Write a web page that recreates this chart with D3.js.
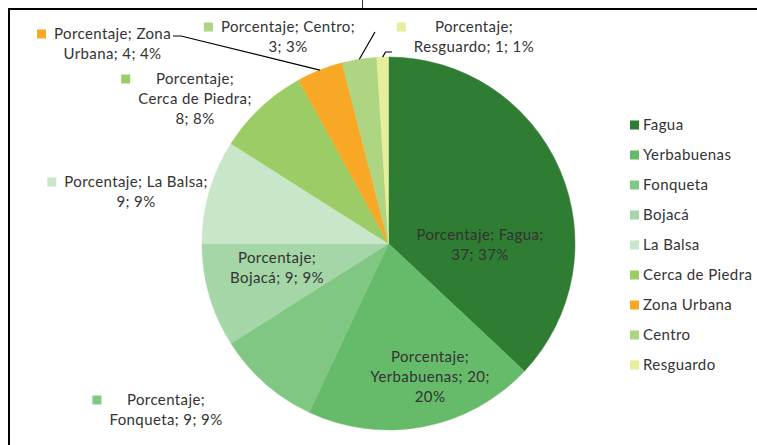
<!DOCTYPE html>
<html>
<head>
<meta charset="utf-8">
<script src="https://cdn.jsdelivr.net/npm/d3@7/dist/d3.min.js"></script>
<style>
  html, body { margin: 0; padding: 0; background: #fff; }
  svg { display: block; }
  text { font-family: Lato, "Open Sans", sans-serif; fill: #333; letter-spacing: 0.4px; }
</style>
</head>
<body>
<svg id="chart" width="757" height="445"></svg>
<script>
// ---- data ----
const seriesName = "Porcentaje";
const categories = ["Fagua", "Yerbabuenas", "Fonqueta", "Bojacá", "La Balsa", "Cerca de Piedra", "Zona Urbana", "Centro", "Resguardo"];
const values = [37, 20, 9, 9, 9, 8, 4, 3, 1];
const colors = ["#2E7D32", "#66BB6A", "#81C784", "#A5D6A7", "#C8E6C9", "#9CCC65", "#F9A825", "#AED581", "#E6EE9C"];

// ---- layout (positions only) ----
const W = 757, H = 445;
const cx = 388.5, cy = 243.5, R = 186.5;
const lineH = 20;
const fontSize = 15;
// per-label layout: words per line, centre x, first line centre y, inside or with key, leader start
const labelLayout = {
  "Fagua":           { lines: [2, 2],    x: 480, y: 235, inside: true },
  "Yerbabuenas":     { lines: [1, 2, 1], x: 430, y: 357, inside: true },
  "Fonqueta":        { lines: [1, 3],    x: 166, y: 400 },
  "Bojacá":          { lines: [1, 3],    x: 277, y: 258, inside: true },
  "La Balsa":        { lines: [3, 2],    x: 136, y: 182 },
  "Cerca de Piedra": { lines: [1, 3, 2], x: 195, y: 79 },
  "Zona Urbana":     { lines: [2, 3],    x: 112.5, y: 34, leader: [[173, 36], [181, 36]] },
  "Centro":          { lines: [2, 2],    x: 288, y: 27, leader: [[375, 32]] },
  "Resguardo":       { lines: [1, 3],    x: 474, y: 27, leader: [[392, 52], [385.5, 52]] }
};

const svg = d3.select("#chart");

// frame
svg.append("line").attr("x1", 9).attr("y1", 9).attr("x2", W).attr("y2", 9)
  .attr("stroke", "#000").attr("stroke-width", 2);
svg.append("line").attr("x1", 9).attr("y1", 8).attr("x2", 9).attr("y2", H)
  .attr("stroke", "#000").attr("stroke-width", 2);
svg.append("line").attr("x1", 362.5).attr("y1", 0).attr("x2", 362.5).attr("y2", 8)
  .attr("stroke", "#333").attr("stroke-width", 1);

const total = d3.sum(values);
const data = categories.map((c, i) => ({ cat: c, value: values[i], color: colors[i] }));

const pie = d3.pie().value(d => d.value).sort(null);
const arcs = pie(data);
const arc = d3.arc().innerRadius(0).outerRadius(R);

const g = svg.append("g").attr("transform", `translate(${cx},${cy})`);
g.selectAll("path").data(arcs).enter().append("path")
  .attr("d", arc)
  .attr("fill", d => d.data.color)
  .attr("stroke", d => d.data.color)
  .attr("stroke-width", 0.5);

// labels
const fmtPct = v => Math.round(v / total * 100) + "%";
arcs.forEach(a => {
  const d = a.data;
  const L = labelLayout[d.cat];
  const words = `${seriesName}; ${d.cat}; ${d.value}; ${fmtPct(d.value)}`.split(" ");
  const lines = [];
  let k = 0;
  L.lines.forEach(n => { lines.push(words.slice(k, k + n).join(" ")); k += n; });

  const lg = svg.append("g");
  const texts = lines.map((ln, i) => lg.append("text")
    .attr("x", L.x).attr("y", L.y + i * lineH)
    .attr("dy", "0.35em")
    .attr("text-anchor", "middle")
    .attr("font-size", fontSize)
    .text(ln));
  if (!L.inside) {
    const maxW = d3.max(texts, t => t.node().getComputedTextLength());
    const left = L.x - maxW / 2;
    lg.append("rect")
      .attr("x", left - 17).attr("y", L.y - 4.5)
      .attr("width", 9).attr("height", 9)
      .attr("fill", d.color);
  }
  if (L.leader) {
    const mid = (a.startAngle + a.endAngle) / 2;
    const end = [cx + R * Math.sin(mid), cy - R * Math.cos(mid)];
    const pts = L.leader.concat([end]);
    svg.append("path")
      .attr("d", d3.line()(pts))
      .attr("fill", "none")
      .attr("stroke", "#000")
      .attr("stroke-width", 1.2);
  }
});

// legend
const lgX = 630, lgY = 125, lgStep = 30;
const leg = svg.append("g");
data.forEach((d, i) => {
  leg.append("rect").attr("x", lgX).attr("y", lgY + i * lgStep - 4.5)
    .attr("width", 9).attr("height", 9).attr("fill", d.color);
  leg.append("text").attr("x", lgX + 13).attr("y", lgY + i * lgStep)
    .attr("dy", "0.35em").attr("font-size", fontSize).text(d.cat);
});
</script>
</body>
</html>
